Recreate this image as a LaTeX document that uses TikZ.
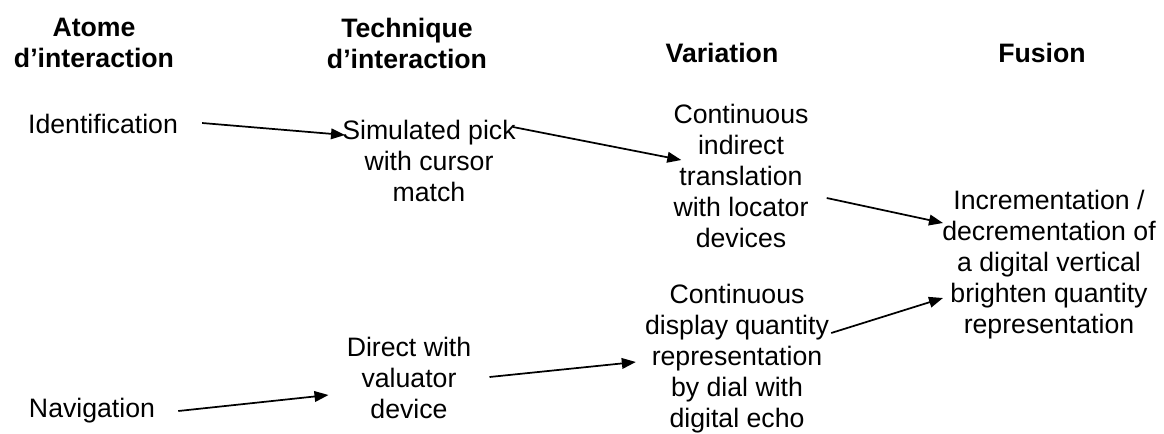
\documentclass[tikz,border=0pt]{standalone}
\usepackage{fontspec}
\setmainfont{Liberation Sans}
\usepackage{tikz}
\usetikzlibrary{arrows.meta,calc}
\newcommand{\diagfont}{\fontsize{20}{23.25}\selectfont}
\tikzset{
  lbl/.style={align=center, inner sep=0pt, font=\diagfont},
  hdr/.style={align=center, inner sep=0pt, font=\diagfont\bfseries},
  arr/.style={-{Triangle[length=10.5pt,width=8pt]}, line width=1.3pt},
}
\begin{document}
\begin{tikzpicture}[x=0.75pt,y=-0.75pt]
  \useasboundingbox (0,0) rectangle (1164,433);
  % column headers
  \node[hdr] (atome) at (94,43) {Atome\\d’interaction};
  \node[hdr] (techn) at (407,43) {Technique\\d’interaction};
  \node[hdr] (varia) at (722,53) {Variation};
  \node[hdr] (fusio) at (1042,53) {Fusion};
  % atoms
  \node[lbl] (ident) at (103,124) {Identification};
  \node[lbl] (navig) at (92,411) {Navigation};
  % techniques
  \node[lbl] (simpick) at (429,161) {Simulated pick\\with cursor\\match};
  \node[lbl] (direct) at (409,378) {Direct with\\valuator\\device};
  % variations
  \node[lbl] (contind) at (741,176) {Continuous\\indirect\\translation\\with locator\\devices};
  \node[lbl] (contdisp) at (737,359) {Continuous\\display quantity\\representation\\by dial with\\digital echo};
  % fusion
  \node[lbl] (incdec) at (1049,265) {Incrementation /\\decrementation of\\a digital vertical\\brighten quantity\\representation};

  % arrows
  \draw[arr] ($(ident.east)+(24,-1)$) -- ($(simpick.west)+(3,-26)$);
  \draw[arr] ($(simpick.east)+(-3,-34)$) -- ($(contind.west)+(8,-16)$);
  \draw[arr] ($(contind.east)+(18,22)$) -- ($(incdec.west)+(1,-42)$);
  \draw[arr] ($(contdisp.east)+(2,-26)$) -- ($(incdec.west)+(1,33)$);
  \draw[arr] ($(navig.east)+(23,0)$) -- ($(direct.west)+(-18,17)$);
  \draw[arr] ($(direct.east)+(18,-1)$) -- ($(contdisp.west)+(-9,3)$);
\end{tikzpicture}
\end{document}
